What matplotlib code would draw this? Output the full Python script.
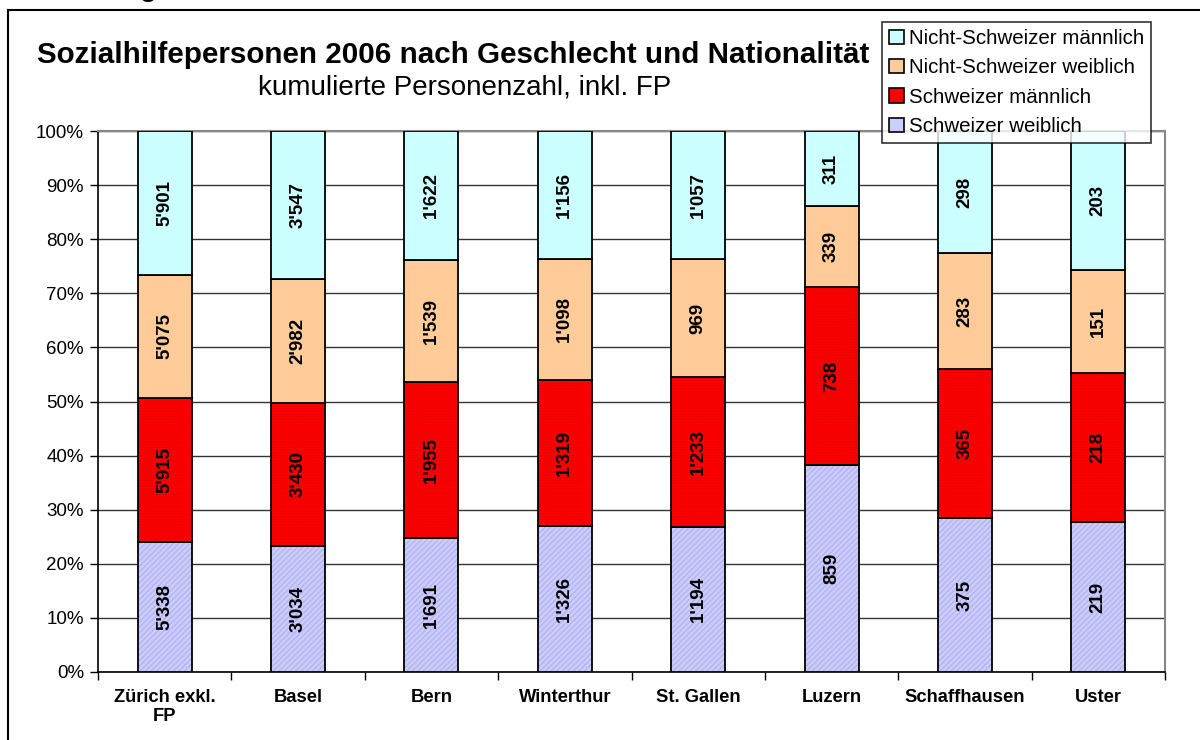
import matplotlib
matplotlib.use("Agg")
import matplotlib.pyplot as plt
import numpy as np
from matplotlib.patches import Rectangle
from matplotlib.lines import Line2D

plt.rcParams['font.family'] = ['Liberation Sans', 'DejaVu Sans']

categories = ["Zürich exkl.\nFP", "Basel", "Bern", "Winterthur", "St. Gallen",
              "Luzern", "Schaffhausen", "Uster"]
schweizer_weiblich = [5338, 3034, 1691, 1326, 1194, 859, 375, 219]
schweizer_maennlich = [5915, 3430, 1955, 1319, 1233, 738, 365, 218]
nicht_schweizer_weiblich = [5075, 2982, 1539, 1098, 969, 339, 283, 151]
nicht_schweizer_maennlich = [5901, 3547, 1622, 1156, 1057, 311, 298, 203]

series = [
    ("Schweizer weiblich", schweizer_weiblich, "#CCCCFF", "//////", "#B4B4EE"),
    ("Schweizer männlich", schweizer_maennlich, "#FF0000", "......", "#E80000"),
    ("Nicht-Schweizer weiblich", nicht_schweizer_weiblich, "#FFCC99", None, None),
    ("Nicht-Schweizer männlich", nicht_schweizer_maennlich, "#CCFFFF", None, None),
]

def fmt(v):
    return f"{v:,}".replace(",", "'")

fig = plt.figure(figsize=(12, 7.4), dpi=100)
W, H = 1200, 740
# plot area in pixels: left 98, right 1165, top 131, bottom 672
ax = fig.add_axes([98 / W, 1 - 672 / H, (1165 - 98) / W, (672 - 131) / H])

totals = np.sum([s[1] for s in series], axis=0).astype(float)
x = np.arange(len(categories))
bw = 0.405
bottom = np.zeros(len(categories))
for name, vals, col, hatch, hcol in series:
    pct = np.array(vals) / totals * 100
    if hatch:
        ax.bar(x, pct, bw, bottom=bottom, color=col, hatch=hatch,
               edgecolor=hcol, linewidth=0, zorder=3)
    ax.bar(x, pct, bw, bottom=bottom, color=col if not hatch else 'none',
           edgecolor='black', linewidth=1.3, zorder=4)
    for xi, b, p, v in zip(x, bottom, pct, vals):
        ax.text(xi, b + p / 2, fmt(v), rotation=90, ha='center', va='center',
                fontsize=13.5, fontweight='bold', zorder=5)
    bottom += pct

ax.set_xlim(-0.5, len(categories) - 0.5)
ax.set_ylim(0, 100)
ax.set_yticks(np.arange(0, 101, 10))
ax.set_yticklabels([f"{v}%" for v in range(0, 101, 10)], fontsize=13.5)
ax.yaxis.grid(True, color='#333333', linewidth=1.0, zorder=0)
ax.set_axisbelow(True)
ax.set_xticks(x)
ax.set_xticklabels(categories, fontsize=13.2, fontweight='bold')
ax.tick_params(axis='x', length=0, pad=12)
ax.tick_params(axis='y', length=6, width=1, direction='out', pad=4)
# category boundary ticks
ax.set_xticks(np.arange(-0.5, len(categories), 1), minor=True)
ax.tick_params(axis='x', which='minor', length=6, width=1, direction='out')
for sp in ['top', 'right']:
    ax.spines[sp].set_color('#888888')
    ax.spines[sp].set_linewidth(1.5)
ax.spines['left'].set_color('black')
ax.spines['bottom'].set_color('black')
ax.spines['left'].set_linewidth(1.2)
ax.spines['bottom'].set_linewidth(1.2)

# outer frame
fig.add_artist(Line2D([8 / W, 1.0], [1 - 10 / H, 1 - 10 / H], color='black', lw=1.5,
                      transform=fig.transFigure))
fig.add_artist(Line2D([8 / W, 8 / W], [1 - 10 / H, 0], color='black', lw=1.5,
                      transform=fig.transFigure))
# clipped heading remnant at the very top (only the descender shows)
fig.text(148 / W, 1 + 4 / H, "g", fontsize=20, fontweight='bold', ha='center',
         va='baseline')

fig.text(37 / W, 1 - 55 / H, "Sozialhilfepersonen 2006 nach Geschlecht und Nationalität",
         fontsize=21.3, fontweight='bold', ha='left', va='center')
fig.text(258 / W, 1 - 88 / H, "kumulierte Personenzahl, inkl. FP",
         fontsize=20, ha='left', va='center')

handles = []
for name, vals, col, hatch, hcol in reversed(series):
    handles.append(Rectangle((0, 0), 1, 1, facecolor=col, edgecolor='black', lw=1.2))
leg = fig.legend(handles, [s[0] for s in reversed(series)],
                 loc='upper left', bbox_to_anchor=(882 / W, 1 - 22 / H),
                 fontsize=14.8, frameon=True, fancybox=False, edgecolor='black',
                 handlelength=0.7, handleheight=0.7, handletextpad=0.25,
                 labelspacing=0.5, borderpad=0.35, borderaxespad=0)
leg.get_frame().set_linewidth(1.2)
leg.set_zorder(10)

fig.savefig("out.png", dpi=100)
